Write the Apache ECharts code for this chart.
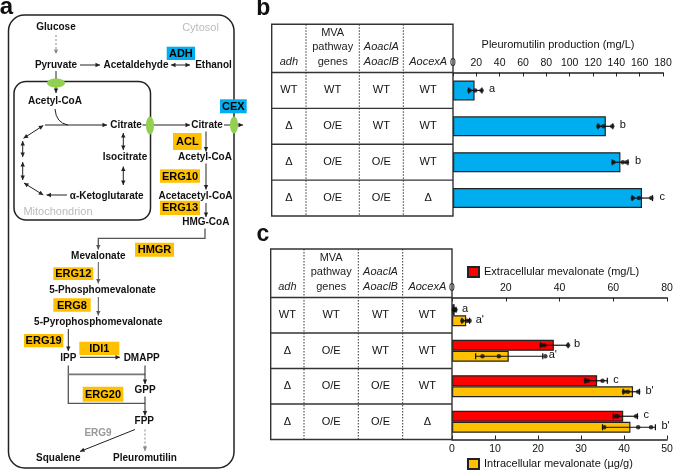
<!DOCTYPE html>
<html><head><meta charset="utf-8">
<script src="https://cdn.jsdelivr.net/npm/echarts@6/dist/echarts.min.js"></script>
<style>html,body{margin:0;padding:0;background:#fff}#c{width:685px;height:471px}</style>
</head><body><div id="c"></div>
<script>
// ================= DATA =================
const strains = ['S1', 'S2', 'S3', 'S4'];
const headerLines = [['adh'], ['MVA', 'pathway', 'genes'], ['AoaclA', 'AoaclB'], ['AocexA']];
const headerItalic = [true, false, true, true];
const genoAdh = ['WT', 'Δ', 'Δ', 'Δ'];
const genoMVA = ['WT', 'O/E', 'O/E', 'O/E'];
const genoAcl = ['WT', 'WT', 'O/E', 'O/E'];
const genoCex = ['WT', 'WT', 'WT', 'Δ'];

// Panel b: pleuromutilin production (mg/L)
const pleuroMean = [18.5, 131, 143.5, 162];
const pleuroLow = [13.4, 124.2, 136.5, 153.5];
const pleuroHigh = [24.8, 137, 150, 171];
const pleuroReps = [[14, 19, 24.5], [124.6, 129, 136.5], [137.5, 145.6, 149], [154, 159.4, 170]];
const pleuroLetters = ['a', 'b', 'b', 'c'];
const pleuroAxis = { min: 0, max: 180, interval: 20 };

// Panel c: extracellular mevalonate (mg/L)
const extraMean = [1.0, 37.9, 54.0, 63.7];
const extraLow = [0.5, 32.9, 49.5, 60];
const extraHigh = [1.5, 43.2, 57.8, 69];
const extraReps = [[0.7, 1.0, 1.3], [33.3, 34.3, 43.2], [49.8, 50.5, 56], [60.9, 61.6, 68.5]];
const extraLetters = ['a', 'b', 'c', 'c'];
const extraAxis = { min: 0, max: 80, interval: 20 };

// Panel c: intracellular mevalonate (µg/g)
const intraMean = [3.3, 13.2, 42.1, 41.5];
const intraLow = [2.3, 5.5, 39.8, 35];
const intraHigh = [4.1, 21.1, 43.6, 47.3];
const intraReps = [[2.4, 3.5, 4.1], [7.1, 10.9, 21.7], [40, 40.9, 43.3], [35.4, 43.3, 46.3]];
const intraLetters = ["a'", "a'", "b'", "b'"];
const intraAxis = { min: 0, max: 50, interval: 10 };

const extraName = 'Extracellular mevalonate (mg/L)';
const intraName = 'Intracellular mevalonate (µg/g)';
const pleuroName = 'Pleuromutilin production (mg/L)';

// ================= LAYOUT =================
const AR = 'Liberation Sans, Arial, sans-serif';
const DK = '#222';
const gridB = { left: 453, top: 72.5, width: 210, height: 143.5 };
const gridC = { left: 452, top: 297.5, width: 215, height: 142 };
const tableB = { left: 271.7, top: 24.3, cols: [306, 359.3, 403.3] };
const tableC = { left: 270.7, top: 249, cols: [304, 358.3, 402.7] };

const els = [];
function txtStyle(o) {
  const s = Object.assign({ fill: '#111', fontSize: 10, fontWeight: 'bold', fontFamily: AR, align: 'center', verticalAlign: 'middle' }, o);
  s.textAlign = s.align; s.textVerticalAlign = s.verticalAlign;
  return s;
}
function T(x, y, s, o) { els.push({ type: 'text', x: x, y: y, z: 20, silent: true, style: Object.assign(txtStyle(o || {}), { text: s }) }); }
function L(pts, o) { els.push({ type: 'polyline', z: 5, silent: true, shape: { points: pts }, style: Object.assign({ stroke: DK, lineWidth: 1, fill: 'none' }, o || {}) }); }
function head(x, y, ang, col) {
  const s = 4.5, w = 2.2, c = Math.cos(ang), sn = Math.sin(ang);
  const bx = x - s * c, by = y - s * sn;
  els.push({ type: 'polygon', z: 6, silent: true, shape: { points: [[x, y], [bx - w * sn, by + w * c], [bx + w * sn, by - w * c]] }, style: { fill: col || DK } });
}
function A(pts, o, dbl) {
  o = o || {};
  L(pts, o);
  const n = pts.length;
  head(pts[n - 1][0], pts[n - 1][1], Math.atan2(pts[n - 1][1] - pts[n - 2][1], pts[n - 1][0] - pts[n - 2][0]), o.stroke);
  if (dbl) head(pts[0][0], pts[0][1], Math.atan2(pts[0][1] - pts[1][1], pts[0][0] - pts[1][0]), o.stroke);
}
function BOX(x1, y1, x2, y2, s, col) {
  els.push({ type: 'rect', z: 12, silent: true, shape: { x: x1, y: y1, width: x2 - x1, height: y2 - y1 }, style: { fill: col } });
  T((x1 + x2) / 2, (y1 + y2) / 2 + 0.5, s, { fontSize: 11, fill: '#000' });
}
function ELL(cx, cy, rx, ry) { els.push({ type: 'ellipse', z: 10, silent: true, shape: { cx: cx, cy: cy, rx: rx, ry: ry }, style: { fill: '#92d050' } }); }

// ----- panel a diagram -----
T(6.5, 7, 'a', { fontSize: 24 });
els.push({ type: 'rect', z: 1, silent: true, shape: { x: 8.5, y: 15, width: 225.5, height: 453, r: 16 }, style: { fill: 'none', stroke: DK, lineWidth: 1.5 } });
els.push({ type: 'rect', z: 1, silent: true, shape: { x: 14, y: 81.5, width: 136.5, height: 138.5, r: 12 }, style: { fill: 'none', stroke: DK, lineWidth: 1.5 } });
T(200.5, 28, 'Cytosol', { fontWeight: 'normal', fill: '#bbb', fontSize: 11 });
T(58, 211.5, 'Mitochondrion', { fontWeight: 'normal', fill: '#bbb', fontSize: 11 });

T(56, 27.5, 'Glucose');
T(56, 65, 'Pyruvate');
T(136, 65, 'Acetaldehyde');
T(213.5, 65, 'Ethanol');
T(55, 101.7, 'Acetyl-CoA');
T(126, 125, 'Citrate');
T(125, 157.7, 'Isocitrate');
T(106.7, 196, 'α-Ketoglutarate');
T(207, 125, 'Citrate');
T(205, 157.7, 'Acetyl-CoA');
T(195.5, 196.7, 'Acetacetyl-CoA');
T(205.8, 222.7, 'HMG-CoA');
T(98.3, 256.7, 'Mevalonate');
T(102.5, 290, '5-Phosphomevalonate');
T(98.3, 322.7, '5-Pyrophosphomevalonate');
T(68.3, 358.3, 'IPP');
T(141.7, 358.3, 'DMAPP');
T(145, 390, 'GPP');
T(144.3, 421.7, 'FPP');
T(98, 433.3, 'ERG9', { fill: '#999' });
T(58.3, 458.3, 'Squalene');
T(145, 458.3, 'Pleuromutilin');

A([[56, 35], [56, 54]], { stroke: '#888', lineDash: [2, 2] });
A([[80, 65], [100, 65]]);
A([[171, 65], [190, 65]], {}, true);
A([[56, 71], [56, 93]]);
els.push({ type: 'bezierCurve', z: 5, silent: true, shape: { x1: 55, y1: 109, x2: 68, y2: 125, cpx1: 56, cpy1: 123 }, style: { stroke: DK, lineWidth: 1, fill: 'none' } });
A([[45, 125], [107, 125]]);
A([[23.5, 138.3], [43.3, 125.5]], {}, true);
A([[22.7, 141], [22.7, 157]], {}, true);
A([[22.7, 162], [22.7, 180]], {}, true);
A([[24, 183], [43.3, 195]], {}, true);
A([[67, 195], [46.5, 195]]);
A([[123.3, 133], [123.3, 150]], {}, true);
A([[123.3, 166.5], [123.3, 185]], {}, true);
A([[142.5, 125], [190, 125]]);
A([[224, 125], [243, 125]]);
A([[206, 131.5], [206, 151.5]]);
A([[206, 163.5], [206, 189.5]]);
A([[206, 203], [206, 217]]);
A([[205, 228.5], [205, 238.3], [98.3, 238.3], [98.3, 249.5]], { stroke: '#555', lineWidth: 1.3 });
A([[98.3, 262], [98.3, 283.5]], { stroke: '#555' });
A([[98.3, 297], [98.3, 315.5]], { stroke: '#555' });
A([[68.3, 329], [68.3, 351]]);
A([[80, 357.3], [120, 357.3]]);
L([[68.3, 365.5], [68.3, 403.3], [145, 403.3]], { stroke: '#555', lineWidth: 1.3 });
L([[68.3, 374.3], [145, 374.3]], { stroke: '#777', lineWidth: 1.8 });
A([[145, 365.5], [145, 384]]);
A([[145, 396.5], [145, 415.5]]);
A([[135, 429.5], [80, 451.5]]);
A([[145, 429.5], [145, 451]], { stroke: '#888', lineDash: [2, 2] });

ELL(56, 83, 9, 4.5);
ELL(150, 125.5, 4, 9);
ELL(234, 125, 4, 8.5);

const BLUE = '#00AEEF', ORANGE = '#FFC000';
BOX(166.7, 46.7, 195, 60, 'ADH', BLUE);
BOX(220, 99.3, 246.7, 113.3, 'CEX', BLUE);
BOX(173, 133, 201.7, 150, 'ACL', ORANGE);
BOX(160, 169.3, 200, 182.7, 'ERG10', ORANGE);
BOX(160, 200.7, 200, 215, 'ERG13', ORANGE);
BOX(135, 242.7, 174, 256.7, 'HMGR', ORANGE);
BOX(53.3, 267.3, 93.3, 280, 'ERG12', ORANGE);
BOX(53.3, 298.3, 90.7, 311.7, 'ERG8', ORANGE);
BOX(24, 334, 63.3, 347.3, 'ERG19', ORANGE);
BOX(79.3, 341.7, 119.3, 355, 'IDI1', ORANGE);
BOX(82.7, 386.7, 123.3, 401.7, 'ERG20', ORANGE);

// ----- tables -----
function drawTable(tb, grid) {
  const x0 = tb.left, x1 = grid.left, y0 = tb.top, yh = grid.top, y1 = grid.top + grid.height;
  const rh = grid.height / strains.length;
  els.push({ type: 'rect', z: 3, silent: true, shape: { x: x0, y: y0, width: x1 - x0, height: y1 - y0 }, style: { fill: 'none', stroke: '#333', lineWidth: 1.4 } });
  for (let i = 0; i < strains.length; i++) L([[x0, yh + i * rh], [x1, yh + i * rh]], { stroke: '#333', lineWidth: 1.3 });
  tb.cols.forEach(x => L([[x, y0], [x, y1]], { stroke: '#333', lineWidth: 1, lineDash: [1.5, 1.5] }));
  const edges = [x0].concat(tb.cols, [x1]);
  const cols = [genoAdh, genoMVA, genoAcl, genoCex];
  for (let c = 0; c < 4; c++) {
    const cx = (edges[c] + edges[c + 1]) / 2;
    const lines = headerLines[c];
    lines.forEach((s, k) => {
      T(cx, yh - 11 - (lines.length - 1 - k) * 14.5, s, { fontWeight: 'normal', fontSize: 11, fontStyle: headerItalic[c] ? 'italic' : 'normal', fill: '#222' });
    });
    cols[c].forEach((s, r) => T(cx, yh + (r + 0.5) * rh, s, { fontWeight: 'normal', fontSize: 11, fill: '#111' }));
  }
}
drawTable(tableB, gridB);
drawTable(tableC, gridC);
T(263.3, 9, 'b', { fontSize: 23 });
T(263, 234.5, 'c', { fontSize: 23 });

// ================= CHART =================
function errRender(letters, dy, lx) {
  return function (params, api) {
    const lo = api.coord([api.value(0), api.value(2)]);
    const hi = api.coord([api.value(1), api.value(2)]);
    const y = lo[1] + dy, c = 3;
    const st = { stroke: '#111', lineWidth: 1.2 };
    return { type: 'group', children: [
      { type: 'line', shape: { x1: lo[0], y1: y, x2: hi[0], y2: y }, style: st },
      { type: 'line', shape: { x1: lo[0], y1: y - c, x2: lo[0], y2: y + c }, style: st },
      { type: 'line', shape: { x1: hi[0], y1: y - c, x2: hi[0], y2: y + c }, style: st },
      { type: 'text', x: hi[0] + lx, y: y - 1, style: { text: letters[params.dataIndex], fill: '#111', fontSize: 11, fontFamily: AR, align: 'left', verticalAlign: 'middle', textAlign: 'left', textVerticalAlign: 'middle' } }
    ] };
  };
}
function valAxis(gi, pos, ax, extra) {
  return Object.assign({
    gridIndex: gi, type: 'value', position: pos, min: ax.min, max: ax.max, interval: ax.interval,
    axisLine: { show: true, onZero: false, lineStyle: { color: DK, width: 1.5 } },
    axisTick: { show: true, inside: true, length: 4, lineStyle: { color: DK, width: 1 } },
    axisLabel: { fontSize: 10.5, color: '#111', margin: 4, fontFamily: AR },
    splitLine: { show: false }
  }, extra || {});
}
const catAxis = gi => ({ gridIndex: gi, type: 'category', data: strains, inverse: true, axisLine: { show: false }, axisTick: { show: false }, axisLabel: { show: false }, splitLine: { show: false } });
const flat = reps => reps.flatMap((r, i) => r.map(v => [v, i]));
const errData = (lo, hi) => lo.map((v, i) => [v, hi[i], i]);

const option = {
  animation: false,
  backgroundColor: '#fff',
  textStyle: { fontFamily: AR },
  grid: [
    Object.assign({ containLabel: false, outerBoundsMode: 'none' }, gridB),
    Object.assign({ containLabel: false, outerBoundsMode: 'none' }, gridC)
  ],
  xAxis: [
    valAxis(0, 'top', pleuroAxis, { name: pleuroName, nameLocation: 'middle', nameGap: 22, nameTextStyle: { fontSize: 11, color: '#111', fontFamily: AR } }),
    valAxis(1, 'top', extraAxis),
    valAxis(1, 'bottom', intraAxis)
  ],
  yAxis: [catAxis(0), catAxis(1)],
  legend: [
    { data: [extraName], left: 467, top: 266, padding: 0, itemWidth: 11, itemHeight: 10, icon: 'rect', selectedMode: false, textStyle: { fontSize: 11, color: '#111', fontFamily: AR } },
    { data: [intraName], left: 467, top: 458, padding: 0, itemWidth: 11, itemHeight: 10, icon: 'rect', selectedMode: false, textStyle: { fontSize: 11, color: '#111', fontFamily: AR } }
  ],
  graphic: { elements: els },
  series: [
    { type: 'bar', name: pleuroName, xAxisIndex: 0, yAxisIndex: 0, data: pleuroMean, barWidth: 20, silent: true, itemStyle: { color: BLUE, borderColor: DK, borderWidth: 1.2 } },
    { type: 'custom', xAxisIndex: 0, yAxisIndex: 0, data: errData(pleuroLow, pleuroHigh), encode: { x: [0, 1], y: 2 }, renderItem: errRender(pleuroLetters, 0, 7), silent: true, z: 5 },
    { type: 'scatter', xAxisIndex: 0, yAxisIndex: 0, data: flat(pleuroReps), symbolSize: 4.5, itemStyle: { color: '#111' }, silent: true, z: 6 },

    { type: 'bar', name: extraName, xAxisIndex: 1, yAxisIndex: 1, data: extraMean, barWidth: 11, barGap: '0%', silent: true, itemStyle: { color: '#FF0000', borderColor: DK, borderWidth: 1.2 } },
    { type: 'bar', name: intraName, xAxisIndex: 2, yAxisIndex: 1, data: intraMean, barWidth: 11, barGap: '0%', silent: true, itemStyle: { color: ORANGE, borderColor: DK, borderWidth: 1.2 } },
    { type: 'custom', xAxisIndex: 1, yAxisIndex: 1, data: errData(extraLow, extraHigh), encode: { x: [0, 1], y: 2 }, renderItem: errRender(extraLetters, -5.5, 6), silent: true, z: 5 },
    { type: 'custom', xAxisIndex: 2, yAxisIndex: 1, data: errData(intraLow, intraHigh), encode: { x: [0, 1], y: 2 }, renderItem: errRender(intraLetters, 5.5, 6), silent: true, z: 5 },
    { type: 'scatter', xAxisIndex: 1, yAxisIndex: 1, data: flat(extraReps), symbolSize: 4.5, symbolOffset: [0, -5.5], itemStyle: { color: '#111' }, silent: true, z: 6 },
    { type: 'scatter', xAxisIndex: 2, yAxisIndex: 1, data: flat(intraReps), symbolSize: 4.5, symbolOffset: [0, 5.5], itemStyle: { color: '#111' }, silent: true, z: 6 }
  ]
};
const chart = echarts.init(document.getElementById('c'), null, { renderer: 'canvas', width: 685, height: 471 });
chart.setOption(option);
</script>
</body></html>
